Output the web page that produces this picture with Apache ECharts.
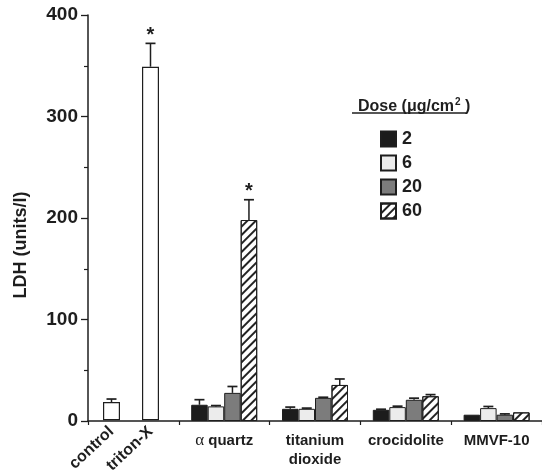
<!DOCTYPE html>
<html>
<head>
<meta charset="utf-8">
<script src="https://cdn.jsdelivr.net/npm/echarts@6/dist/echarts.min.js"></script>
<style>html,body{margin:0;padding:0;background:#fff;}#c{width:542px;height:476px;}</style>
</head>
<body>
<div id="c"></div>
<script>
// ---- data ----
const doses = ['2', '6', '20', '60'];
const groups = ['α quartz', 'titanium\ndioxide', 'crocidolite', 'MMVF-10'];
const controlNames = ['control', 'triton-X'];
const controlValues = [18, 349];
const controlErrTop = [21, 372];
const controlSig = [0, 1];
const dose2 = [16, 12, 11, 6.2];
const dose2ErrTop = [21, 13.7, 11.6, 6.6];
const dose6 = [14.4, 12, 13.7, 12.7];
const dose6ErrTop = [15.2, 12.7, 14.6, 14.3];
const dose20 = [27.7, 22.8, 20.9, 6.2];
const dose20ErrTop = [34, 23.4, 22.5, 7];
const dose60 = [198, 35.5, 24.4, 8.5];
const dose60ErrTop = [218, 41.4, 26, 8.8];
const dose60Sig = [1, 0, 0, 0];
const yTicks = [0, 100, 200, 300, 400];

const doseValues = [dose2, dose6, dose20, dose60];
const doseErr = [dose2ErrTop, dose6ErrTop, dose20ErrTop, dose60ErrTop];
const doseSig = [[0,0,0,0],[0,0,0,0],[0,0,0,0], dose60Sig];

const BW = 16.5;
const FONT = 'Liberation Sans, Arial, Helvetica, sans-serif';
const ink = '#1e1e1e';

const barStyles = [
  { color: '#1c1c1c', borderColor: ink, borderWidth: 1 },
  { color: '#ececec', borderColor: ink, borderWidth: 1 },
  { color: '#7c7c7c', borderColor: ink, borderWidth: 1 },
  { color: '#ffffff', borderColor: ink, borderWidth: 1,
    decal: { symbol: 'rect', symbolSize: 1, dashArrayX: [1, 0], dashArrayY: [1.4, 3.2], rotation: -Math.PI / 4, color: '#222' } }
];

function errRender(offsetCount) {
  return function (params, api) {
    const idx = api.value(0);
    const v = api.value(1);
    const t = api.value(2);
    const off = api.value(3);
    const sig = api.value(4);
    const b = api.coord([idx, v]);
    const tp = api.coord([idx, t]);
    const x = b[0] + (offsetCount ? (off - (offsetCount - 1) / 2) * BW : 0);
    const children = [];
    if (tp[1] < b[1] - 0.5) {
      children.push({ type: 'line', shape: { x1: x, y1: b[1], x2: x, y2: tp[1] }, style: { stroke: ink, lineWidth: 1.5 } });
      children.push({ type: 'line', shape: { x1: x - 5, y1: tp[1], x2: x + 5, y2: tp[1] }, style: { stroke: ink, lineWidth: 1.7 } });
    }
    if (sig) {
      children.push({ type: 'text', style: { text: '*', x: x, y: tp[1] + 2, align: 'center', verticalAlign: 'bottom', fontSize: 20, fontWeight: 'bold', fontFamily: FONT, fill: ink } });
    }
    return { type: 'group', children: children };
  };
}

const series = [];
doses.forEach(function (d, i) {
  series.push({
    name: d, type: 'bar', xAxisIndex: 0, yAxisIndex: 0,
    barWidth: BW, barGap: '0%',
    data: ['-'].concat(doseValues[i]),
    itemStyle: barStyles[i],
    emphasis: { disabled: true }, animation: false
  });
});
const errData = [];
doses.forEach(function (d, i) {
  doseValues[i].forEach(function (v, j) {
    errData.push([j + 1, v, doseErr[i][j], i, doseSig[i][j]]);
  });
});
series.push({ type: 'custom', xAxisIndex: 0, yAxisIndex: 0, renderItem: errRender(4), data: errData, z: 5, animation: false, silent: true });

series.push({
  name: 'controls', type: 'bar', xAxisIndex: 1, yAxisIndex: 1, barWidth: 17,
  data: controlValues,
  itemStyle: { color: '#ffffff', borderColor: ink, borderWidth: 1.2 },
  emphasis: { disabled: true }, animation: false
});
series.push({
  type: 'custom', xAxisIndex: 1, yAxisIndex: 1, renderItem: errRender(0),
  data: controlValues.map(function (v, j) { return [j, v, controlErrTop[j], 0, controlSig[j]]; }),
  z: 5, animation: false, silent: true
});

const chart = echarts.init(document.getElementById('c'), null, { renderer: 'canvas' });
chart.setOption({
  backgroundColor: '#ffffff',
  animation: false,
  title: {
    text: 'Dose (μg/cm{s|2} )',
    left: 353, top: 92,
    textStyle: { fontFamily: FONT, fontWeight: 'bold', fontSize: 16, color: ink,
      rich: { s: { fontSize: 10, fontWeight: 'bold', fontFamily: FONT, color: ink, padding: [0, 0, 9, 1] } } }
  },
  graphic: [{ type: 'line', shape: { x1: 352, y1: 113, x2: 466, y2: 113 }, style: { stroke: ink, lineWidth: 1.5 } }],
  legend: {
    data: doses, orient: 'vertical', left: 375, top: 125,
    icon: 'rect',
    itemWidth: 15, itemHeight: 15, itemGap: 6,
    textStyle: { fontFamily: FONT, fontWeight: 'bold', fontSize: 18, color: ink, padding: [0, 0, 0, 1] },
    selectedMode: false
  },
  grid: [
    { left: 88, right: 0, top: 15, bottom: 55, containLabel: false },
    { left: 92, width: 78, top: 15, bottom: 55, containLabel: false }
  ],
  xAxis: [
    {
      type: 'category', gridIndex: 0, data: [''].concat(groups),
      axisLine: { show: true, lineStyle: { color: ink, width: 1.5 } },
      axisTick: { show: true, length: 4, interval: 0, lineStyle: { color: ink, width: 1.2 } },
      axisLabel: {
        interval: 0, margin: 10, color: ink, fontFamily: FONT, fontWeight: 'bold', fontSize: 15, lineHeight: 19,
        formatter: function (v) { return v.indexOf('α') === 0 ? '{a|α}' + v.slice(1) : v; },
        rich: { a: { fontFamily: 'Liberation Serif, serif', fontWeight: 'normal', fontSize: 17, color: ink } }
      }
    },
    {
      type: 'category', gridIndex: 1, data: controlNames,
      axisLine: { show: false }, axisTick: { show: false },
      axisLabel: { interval: 0, rotate: 43, margin: 9, color: ink, fontFamily: FONT, fontWeight: 'bold', fontSize: 16 }
    }
  ],
  yAxis: [
    {
      type: 'value', gridIndex: 0, min: yTicks[0], max: yTicks[yTicks.length - 1], interval: 100,
      name: 'LDH (units/l)', nameLocation: 'middle', nameGap: 58,
      nameTextStyle: { fontFamily: FONT, fontWeight: 'bold', fontSize: 18, color: ink, padding: [0, 54, 0, 0] },
      axisLine: { show: true, lineStyle: { color: ink, width: 1.5 } },
      axisTick: { show: true, length: 7, lineStyle: { color: ink, width: 1.3 } },
      minorTick: { show: true, splitNumber: 2, length: 4, lineStyle: { color: ink, width: 1.2 } },
      splitLine: { show: false },
      axisLabel: { margin: 10, color: ink, fontFamily: FONT, fontWeight: 'bold', fontSize: 19 }
    },
    {
      type: 'value', gridIndex: 1, min: yTicks[0], max: yTicks[yTicks.length - 1], interval: 100, show: false
    }
  ],
  series: series
});
</script>
</body>
</html>
